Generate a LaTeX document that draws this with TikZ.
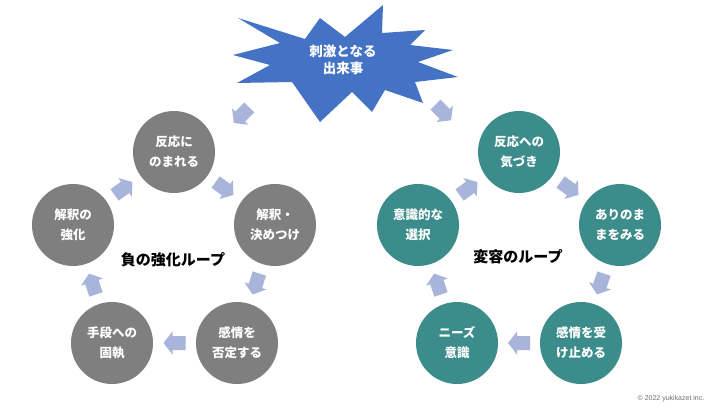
\documentclass[tikz,border=0pt]{standalone}
\usepackage{fontspec}
\newfontfamily\jp{Noto Sans CJK JP}
\newfontfamily\lsans{Liberation Sans}
\usetikzlibrary{calc}
\definecolor{circgray}{HTML}{7F7F7F}
\definecolor{circteal}{HTML}{3B8C8A}
\definecolor{starblue}{HTML}{4472C4}
\definecolor{arrowc}{HTML}{A9B4DA}
\definecolor{copyc}{HTML}{707070}
\tikzset{
  circ/.style={circle, minimum size=82pt, inner sep=0pt, text=white, align=center,
    font=\jp\bfseries\fontsize{12.5}{20}\selectfont},
  graycirc/.style={circ, fill=circgray},
  tealcirc/.style={circ, fill=circteal},
  looplabel/.style={font=\jp\bfseries\fontsize{15}{18}\selectfont, text=black},
  startext/.style={text=white, align=center, font=\jp\bfseries\fontsize{13.5}{17}\selectfont},
  barrow/.pic={\fill[arrowc] (-11pt,-7pt) -- (2pt,-7pt) -- (2pt,-11.5pt) -- (11pt,0pt)
     -- (2pt,11.5pt) -- (2pt,7pt) -- (-11pt,7pt) -- cycle;},
}
\newcommand\looparrow[3][0.5]{\path let \p1=($(#3)-(#2)$), \n1={atan2(\y1,\x1)} in
  ($(#2)!#1!(#3)$) pic[rotate=\n1]{barrow};}
\begin{document}
\begin{tikzpicture}[x=1pt,y=-1pt]
\useasboundingbox[fill=white] (0,0) rectangle (720,413);
% star
\fill[starblue] (238,18) -- (305,39) -- (320,18) -- (345,37) -- (383,5) -- (382,33)
  -- (425,30) -- (410,45) -- (453,50) -- (418,62) -- (458,77) -- (415,82)
  -- (423,103) -- (385,90) -- (372,112) -- (352,92) -- (320,122) -- (292,82)
  -- (237,83) -- (270,65) -- (233,55) -- (280,43) -- cycle;
\node[startext] (star) at (343,60) {刺激となる\\出来事};
% left loop
\node[graycirc] (L1) at (174,152) {反応に\\のまれる};
\node[graycirc] (L2) at (275,225) {解釈・\\決めつけ};
\node[graycirc] (L3) at (237,343) {感情を\\否定する};
\node[graycirc] (L4) at (112,343) {手段への\\固執};
\node[graycirc] (L5) at (73,225) {解釈の\\強化};
\node[looplabel] (LL) at (173,260) {負の強化ループ};
% right loop
\node[tealcirc] (R1) at (519,152) {反応への\\気づき};
\node[tealcirc] (R2) at (620,225) {ありのま\\まをみる};
\node[tealcirc] (R3) at (581,343) {感情を受\\け止める};
\node[tealcirc] (R4) at (457,343) {ニーズ\\意識};
\node[tealcirc] (R5) at (418,225) {意識的な\\選択};
\node[looplabel] (RL) at (518,257) {変容のループ};
% arrows
\pic[rotate=-135] at ($(star)!0.6!(L1)$) {barrow};
\pic[rotate=-45] at ($(star)!0.57!(R1)$) {barrow};
\looparrow{L1}{L2}
\looparrow{L2}{L3}
\looparrow{L3}{L4}
\looparrow{L4}{L5}
\looparrow{L5}{L1}
\looparrow{R1}{R2}
\looparrow{R2}{R3}
\looparrow{R3}{R4}
\looparrow{R4}{R5}
\looparrow{R5}{R1}
\node[font=\lsans\fontsize{7}{8}\selectfont, text=copyc] (copy) at (671,399) {© 2022 yukikazet inc.};
\end{tikzpicture}
\end{document}
